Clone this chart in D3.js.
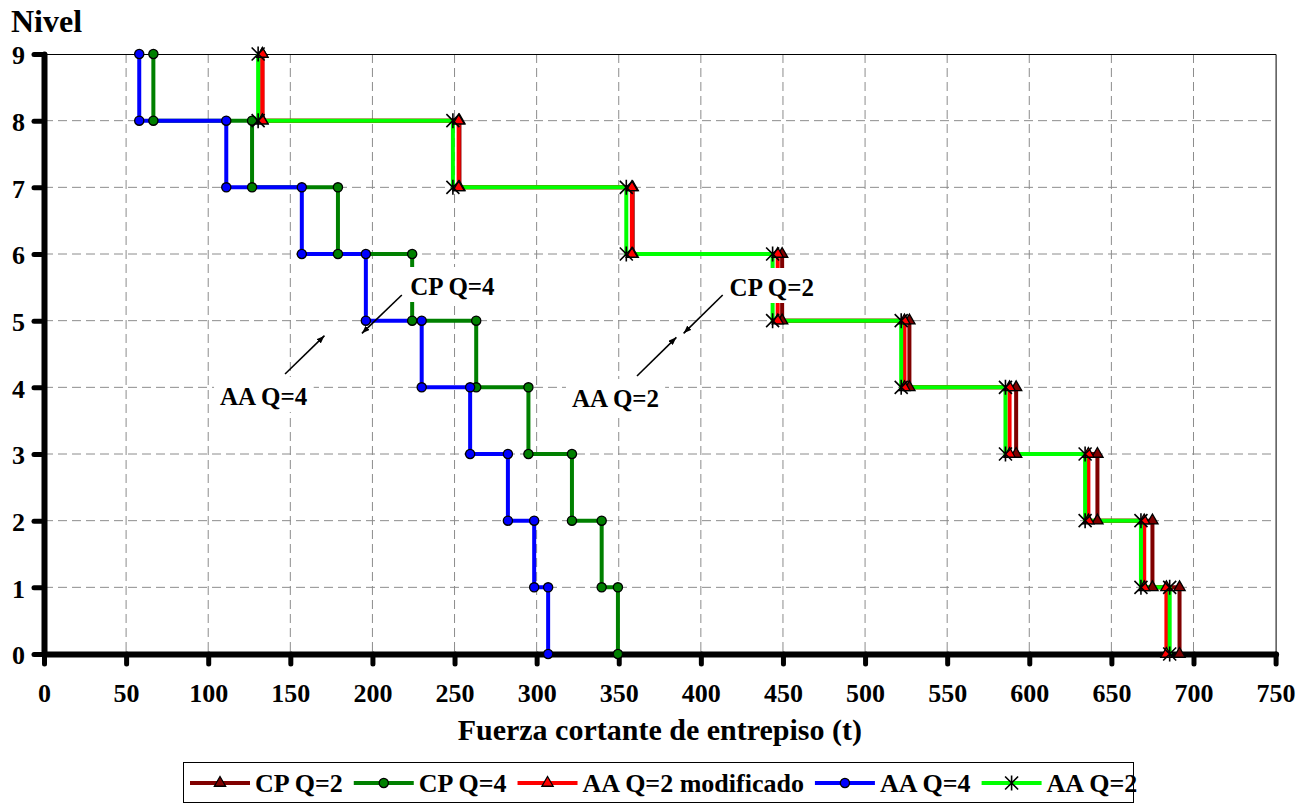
<!DOCTYPE html>
<html lang="es">
<head>
<meta charset="utf-8">
<title>Fuerza cortante de entrepiso</title>
<script src="https://d3js.org/d3.v7.min.js"></script>
<style>
  body { margin: 0; background: #fff; }
  svg text { font-family: "Liberation Serif", "Times New Roman", serif; font-weight: bold; fill: #000; }
  .grid line { stroke: #8c8c8c; stroke-width: 1; stroke-dasharray: 9 5; }
  .axis path, .axis line { stroke: #000; stroke-linecap: round; }
  .axis path { stroke-width: 6; }
  .axis line { stroke-width: 5; }
  .axis text { font-size: 26px; }
  .serie { fill: none; stroke-width: 4; stroke-linejoin: miter; }
  .nota { font-size: 25px; }
  .leyenda text { font-size: 26px; }
</style>
</head>
<body>
<script>
// niveles y ticks
const niveles = [0, 1, 2, 3, 4, 5, 6, 7, 8, 9];
const xTicks = [0, 50, 100, 150, 200, 250, 300, 350, 400, 450, 500, 550, 600, 650, 700, 750];

// cortante de entrepiso (t), entrepisos 9 -> 1
const cpQ2    = [133, 253, 358.5, 449.5, 527, 592, 641.5, 675, 691.5];
const cpQ4    = [66.6, 126.7, 179, 224.2, 263.2, 295, 321.5, 339.6, 349.5];
const aaQ2mod = [133, 252.5, 358, 446.8, 524, 588, 636, 670, 683.5];
const aaQ4    = [58, 111, 157, 196, 230, 259.5, 282.5, 298.5, 307];
const aaQ2    = [130.4, 249, 354.6, 443.7, 522, 585.5, 634, 668, 685.5];

const series = [
  {nombre: "CP Q=2", datos: cpQ2, color: "#800000", marca: "tri"},
  {nombre: "CP Q=4", datos: cpQ4, color: "#008000", marca: "circ"},
  {nombre: "AA Q=2 modificado", datos: aaQ2mod, color: "#ff0000", marca: "tri"},
  {nombre: "AA Q=4", datos: aaQ4, color: "#0000ff", marca: "circ"},
  {nombre: "AA Q=2", datos: aaQ2, color: "#00ff00", marca: "star"}
];

const notas = [
  {texto: "CP Q=4", x: 223, y: 5.385, flecha: [[217.9, 5.385], [193.6, 4.81]]},
  {texto: "AA Q=4", x: 107.2, y: 3.735, flecha: [[146.8, 4.2], [170.8, 4.775]]},
  {texto: "CP Q=2", x: 417.5, y: 5.37, flecha: [[413.3, 5.385], [389.5, 4.81]]},
  {texto: "AA Q=2", x: 321.5, y: 3.705, flecha: [[361.1, 4.17], [385.1, 4.75]]}
];

const w = 1309, h = 803;

const xScale = d3.scaleLinear().domain([0, 750]).range([44, 1275.6]);
const yScale = d3.scaleLinear().domain([0, 9]).range([654, 54]);

const svg = d3.select("body").append("svg")
  .attr("width", w)
  .attr("height", h);

svg.append("defs").append("marker")
  .attr("id", "punta")
  .attr("viewBox", "0 0 8 6")
  .attr("refX", 8).attr("refY", 3)
  .attr("markerWidth", 8).attr("markerHeight", 6)
  .attr("markerUnits", "userSpaceOnUse")
  .attr("orient", "auto")
  .append("path").attr("d", "M0,0L8,3L0,6Z").attr("fill", "#000");

// rejilla
const grid = svg.append("g").attr("class", "grid");
grid.selectAll(".gv").data(xTicks.filter(d => d > 0 && d < 750)).join("line")
  .attr("x1", d => xScale(d)).attr("x2", d => xScale(d))
  .attr("y1", yScale(9)).attr("y2", yScale(0));
grid.selectAll(".gh").data(niveles.filter(d => d > 0 && d < 9)).join("line")
  .attr("x1", xScale(0)).attr("x2", xScale(750))
  .attr("y1", d => yScale(d)).attr("y2", d => yScale(d));

// borde del area de trazo
svg.append("path")
  .attr("d", `M${xScale(0)},${yScale(9) + 0.5}H${xScale(750) + 0.5}V${yScale(0)}`)
  .attr("fill", "none").attr("stroke", "#000").attr("stroke-width", 1);

// ejes
const bottomAxis = d3.axisBottom(xScale)
  .tickValues(xTicks)
  .tickSize(10)
  .tickSizeOuter(0)
  .tickPadding(20);
svg.append("g")
  .attr("class", "axis")
  .attr("transform", "translate(0," + yScale(0) + ")")
  .call(bottomAxis);

const leftAxis = d3.axisLeft(yScale)
  .tickValues(niveles)
  .tickFormat(d3.format("d"))
  .tickSize(10)
  .tickSizeOuter(0)
  .tickPadding(9);
svg.append("g")
  .attr("class", "axis")
  .attr("transform", "translate(" + xScale(0) + ",0)")
  .call(leftAxis)
  .selectAll("text").attr("dy", "0.38em");

// puntos escalonados
function escalon(v) {
  const pts = [];
  v.forEach((d, i) => {
    pts.push([d, 9 - i]);
    pts.push([d, 8 - i]);
  });
  return pts;
}

const line = d3.line()
  .x(d => xScale(d[0]))
  .y(d => yScale(d[1]));

series.forEach(s => {
  svg.append("path")
    .datum(escalon(s.datos))
    .attr("class", "serie")
    .attr("stroke", s.color)
    .attr("d", line);
});

const triangulo = d3.symbol(d3.symbolTriangle, 55)();
const estrella = "M-6.5,-6.5L6.5,6.5M-6.5,6.5L6.5,-6.5M0,-7.5L0,7.5";

function marca(g, s) {
  if (s.marca === "circ") {
    g.append("circle").attr("r", 4.6)
      .attr("fill", s.color).attr("stroke", "#000").attr("stroke-width", 1.3);
  } else if (s.marca === "tri") {
    g.append("path").attr("d", triangulo)
      .attr("fill", s.color).attr("stroke", "#000").attr("stroke-width", 1.3);
  } else {
    g.append("path").attr("d", estrella)
      .attr("fill", "none").attr("stroke", "#000").attr("stroke-width", 1.6);
  }
}

series.forEach(s => {
  svg.append("g").selectAll("g")
    .data(escalon(s.datos))
    .join("g")
    .attr("transform", d => `translate(${xScale(d[0])},${yScale(d[1])})`)
    .each(function() { marca(d3.select(this), s); });
});

// notas con flechas
notas.forEach(n => {
  const g = svg.append("g");
  const bg = g.append("rect").attr("fill", "#fff");
  const t = g.append("text")
    .attr("class", "nota")
    .attr("x", xScale(n.x))
    .attr("y", yScale(n.y))
    .text(n.texto);
  const bb = t.node().getBBox();
  bg.attr("x", bb.x - 6).attr("y", bb.y - 6)
    .attr("width", bb.width + 12).attr("height", bb.height + 8);
  svg.append("line")
    .attr("x1", xScale(n.flecha[0][0])).attr("y1", yScale(n.flecha[0][1]))
    .attr("x2", xScale(n.flecha[1][0])).attr("y2", yScale(n.flecha[1][1]))
    .attr("stroke", "#000").attr("stroke-width", 1.6)
    .attr("marker-end", "url(#punta)");
});

// titulos
svg.append("text")
  .attr("x", 11).attr("y", 32)
  .style("font-size", "32px")
  .text("Nivel");

svg.append("text")
  .attr("x", (xScale(0) + xScale(750)) / 2)
  .attr("y", 740)
  .attr("text-anchor", "middle")
  .style("font-size", "30px")
  .text("Fuerza cortante de entrepiso (t)");

// leyenda
const ley = svg.append("g").attr("class", "leyenda");
ley.append("rect")
  .attr("x", 183.5).attr("y", 762.5)
  .attr("width", 950).attr("height", 40)
  .attr("fill", "#fff").attr("stroke", "#000").attr("stroke-width", 1);

let lx = 190;
series.forEach(s => {
  ley.append("line")
    .attr("x1", lx).attr("x2", lx + 60)
    .attr("y1", 783).attr("y2", 783)
    .attr("stroke", s.color).attr("stroke-width", 4);
  const g = ley.append("g").attr("transform", `translate(${lx + 30},783)`);
  marca(g, s);
  const t = ley.append("text")
    .attr("x", lx + 65).attr("y", 792)
    .text(s.nombre);
  lx += 65 + t.node().getComputedTextLength() + 11;
});
</script>
</body>
</html>
